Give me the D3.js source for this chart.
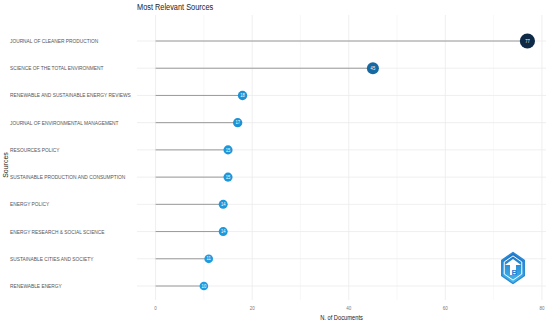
<!DOCTYPE html>
<html>
<head>
<meta charset="utf-8">
<script src="https://cdn.jsdelivr.net/npm/d3@7"></script>
<style>
  body { margin: 0; background: #fff; }
  text { font-family: "Liberation Sans", Arial, sans-serif; }
</style>
</head>
<body>
<svg id="chart" width="550" height="323"></svg>
<script>
// data
const sources = [
  "JOURNAL OF CLEANER PRODUCTION",
  "SCIENCE OF THE TOTAL ENVIRONMENT",
  "RENEWABLE AND SUSTAINABLE ENERGY REVIEWS",
  "JOURNAL OF ENVIRONMENTAL MANAGEMENT",
  "RESOURCES POLICY",
  "SUSTAINABLE PRODUCTION AND CONSUMPTION",
  "ENERGY POLICY",
  "ENERGY RESEARCH & SOCIAL SCIENCE",
  "SUSTAINABLE CITIES AND SOCIETY",
  "RENEWABLE ENERGY"
];
const docs = [77, 45, 18, 17, 15, 15, 14, 14, 11, 10];
const xTicks = [0, 20, 40, 60, 80];
const xMinor = [10, 30, 50, 70];

const svg = d3.select("#chart");
const panel = { left: 137, right: 546, top: 15, bottom: 300 };

const x = d3.scaleLinear().domain([-3.85, 80.85]).range([panel.left, panel.right]);
const y = d3.scalePoint().domain(sources).range([41, 286]);
const color = d3.scaleLinear().domain([10, 45, 77]).range(["#1f9de2", "#176aa1", "#0e2a47"]);
const size = d3.scaleLinear().domain([10, 77]).range([4.3, 7.6]);

// the picture's text is a bit squeezed sideways
const sq = 0.82;

// grid
const g = svg.append("g");
g.selectAll(".minor").data(xMinor).join("line")
  .attr("x1", d => x(d)).attr("x2", d => x(d))
  .attr("y1", panel.top).attr("y2", panel.bottom)
  .attr("stroke", "#f4f4f4").attr("stroke-width", 0.6);
g.selectAll(".major").data(xTicks).join("line")
  .attr("x1", d => x(d)).attr("x2", d => x(d))
  .attr("y1", panel.top).attr("y2", panel.bottom)
  .attr("stroke", "#ebebeb").attr("stroke-width", 0.8);
g.selectAll(".hgrid").data(sources).join("line")
  .attr("x1", panel.left).attr("x2", panel.right)
  .attr("y1", d => y(d)).attr("y2", d => y(d))
  .attr("stroke", "#ebebeb").attr("stroke-width", 0.8);

// lollipop sticks
svg.selectAll(".stick").data(docs).join("line")
  .attr("x1", x(0)).attr("x2", d => x(d))
  .attr("y1", (d, i) => y(sources[i])).attr("y2", (d, i) => y(sources[i]))
  .attr("stroke", "#9a9a9a").attr("stroke-width", 1);

svg.selectAll(".dot").data(docs).join("circle")
  .attr("cx", d => x(d)).attr("cy", (d, i) => y(sources[i]))
  .attr("r", d => size(d))
  .attr("fill", d => color(d));

svg.selectAll(".val").data(docs).join("text")
  .attr("transform", (d, i) => `translate(${x(d)},${y(sources[i]) + 1.7}) scale(${sq},1)`)
  .attr("text-anchor", "middle")
  .attr("font-size", 5).attr("fill", "#fff")
  .text(d => d);

// category labels
svg.selectAll(".cat").data(sources).join("text")
  .attr("transform", d => `translate(10,${y(d) + 2}) scale(${sq},1)`)
  .attr("font-size", 5.9).attr("fill", "#555")
  .text(d => d);

// x tick labels
svg.selectAll(".tick").data(xTicks).join("text")
  .attr("transform", d => `translate(${x(d)},310) scale(${sq},1)`)
  .attr("text-anchor", "middle")
  .attr("font-size", 5.5).attr("fill", "#777")
  .text(d => d);

svg.append("text")
  .attr("transform", `translate(${(panel.left + panel.right) / 2},319.5) scale(${sq},1)`)
  .attr("text-anchor", "middle").attr("font-size", 7).attr("fill", "#222")
  .text("N. of Documents");

svg.append("text").attr("transform", "translate(8,165) rotate(-90)")
  .attr("text-anchor", "middle").attr("font-size", 7).attr("fill", "#222")
  .text("Sources");

svg.append("text").attr("transform", `translate(137,10) scale(${sq},1)`)
  .attr("font-size", 9).attr("fill", "#222")
  .text("Most Relevant Sources");

// logo badge, bottom right
const logo = svg.append("g").attr("transform", "translate(513,268)");
const hex = d3.range(6).map(i => {
  const a = Math.PI / 3 * i - Math.PI / 2;
  return [13 * Math.cos(a), 15.5 * Math.sin(a)];
});
const grad = svg.append("defs").append("linearGradient").attr("id", "lg")
  .attr("x1", 0).attr("y1", 0).attr("x2", 0).attr("y2", 1);
grad.append("stop").attr("offset", 0).attr("stop-color", "#1a6fc4");
grad.append("stop").attr("offset", 1).attr("stop-color", "#45bdf0");
logo.append("path").attr("d", d3.line()(hex) + "Z").attr("fill", "url(#lg)")
  .attr("stroke", "#2a8ad6").attr("stroke-width", 1.5).attr("stroke-linejoin", "round");
const inner = hex.map(p => [p[0] * 0.78, p[1] * 0.78]);
logo.append("path").attr("d", d3.line()(inner) + "Z")
  .attr("fill", "none").attr("stroke", "#fff").attr("stroke-width", 1);
logo.append("path").attr("d", "M-8,-3 L0,-9 L8,-3 Z").attr("fill", "#fff");
logo.append("rect").attr("x", -3).attr("y", -3).attr("width", 6).attr("height", 10)
  .attr("fill", "#fff");
logo.append("text").attr("x", 1.5).attr("y", 7).attr("text-anchor", "middle")
  .attr("font-size", 8).attr("font-weight", "bold").attr("fill", "#1f7fd0").text("B");
</script>
</body>
</html>
